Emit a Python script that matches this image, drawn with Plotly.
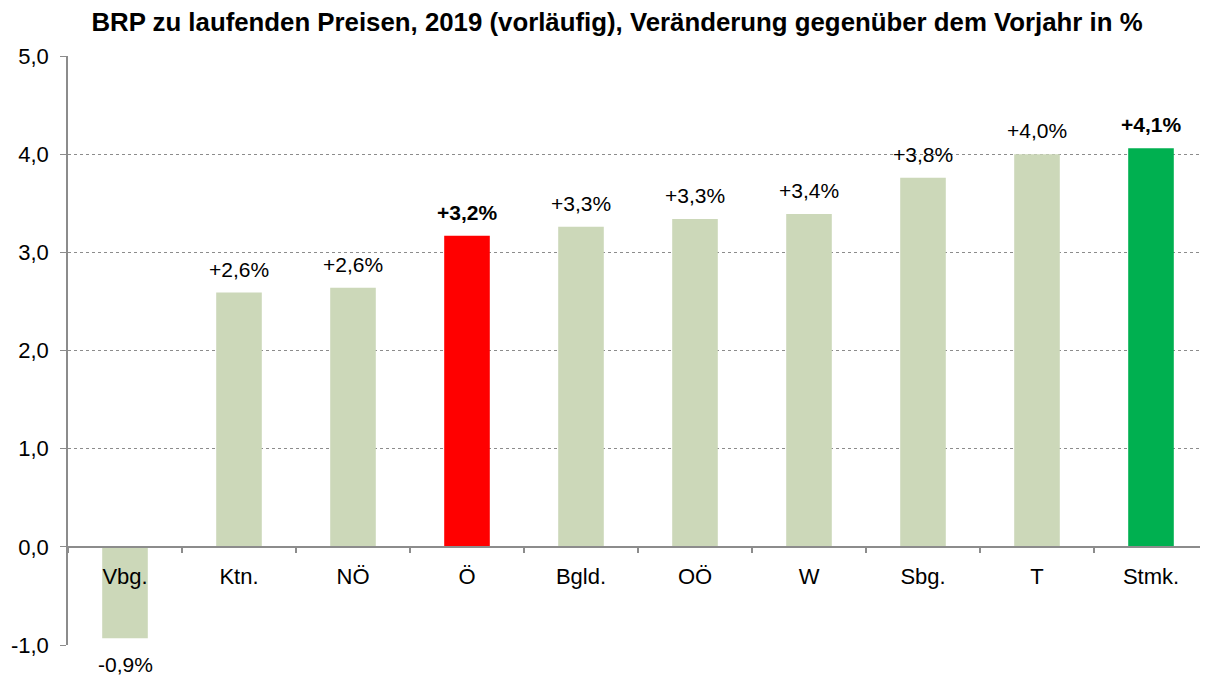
import plotly.graph_objects as go

categories = ["Vbg.", "Ktn.", "NÖ", "Ö", "Bgld.", "OÖ", "W", "Sbg.", "T", "Stmk."]
values = [-0.93, 2.59, 2.64, 3.17, 3.26, 3.34, 3.39, 3.76, 4.00, 4.06]
highlight = {"Ö": "#FF0000", "Stmk.": "#00B050"}
base_color = "#CCD8B9"
y_ticks = [-1, 0, 1, 2, 3, 4, 5]

colors = [highlight.get(c, base_color) for c in categories]
y_ticktext = [f"{t:.1f}".replace(".", ",") for t in y_ticks]
FONT = "Liberation Sans, Arial, sans-serif"
AXIS_GRAY = "#8C8C8C"

fig = go.Figure()
fig.add_trace(go.Bar(x=categories, y=values, marker=dict(color=colors, line=dict(width=0)),
                     hoverinfo="skip"))

def fmt(v):
    return f"{v:+.1f}%".replace(".", ",")

annotations = []
for c, v in zip(categories, values):
    bold = c in highlight
    txt = f"<b>{fmt(v)}</b>" if bold else fmt(v)
    if v >= 0:
        annotations.append(dict(x=c, y=v, text=txt, showarrow=False, yanchor="bottom",
                                yshift=10, font=dict(size=21, color="#000000", family=FONT)))
    else:
        annotations.append(dict(x=c, y=v, text=txt, showarrow=False, yanchor="top",
                                yshift=-13, font=dict(size=21, color="#000000", family=FONT)))

fig.update_layout(
    width=1200, height=667,
    margin=dict(l=60, r=0, t=48, b=30),
    paper_bgcolor="white", plot_bgcolor="white",
    separators=",.",
    bargap=0.6,
    showlegend=False,
    font=dict(family=FONT, size=22, color="#000000"),
    title=dict(text="<b>BRP zu laufenden Preisen, 2019 (vorläufig), Veränderung gegenüber dem Vorjahr in %</b>",
               x=0.5075, xanchor="center", y=0.979, yanchor="middle",
               font=dict(size=25.8, family=FONT, color="#000000")),
    annotations=annotations,
    xaxis=dict(
        anchor="free", position=1/6, automargin=False,
        showline=True, linecolor=AXIS_GRAY, linewidth=1.5,
        ticks="outside", tickson="boundaries", ticklen=5, tickcolor=AXIS_GRAY, tickwidth=1.5,
        ticklabelstandoff=10,
        showgrid=False, zeroline=False,
        tickfont=dict(size=22, family=FONT, color="#000000"),
    ),
    yaxis=dict(
        range=[-1, 5], tickvals=y_ticks, ticktext=y_ticktext, automargin=False,
        showline=True, linecolor=AXIS_GRAY, linewidth=1.5,
        ticks="outside", ticklen=6, tickcolor=AXIS_GRAY, tickwidth=1,
        ticklabelstandoff=7,
        showgrid=True, gridcolor=AXIS_GRAY, griddash="dot", gridwidth=1,
        zeroline=False,
        tickfont=dict(size=22, family=FONT, color="#000000"),
    ),
)

fig.write_html("out.html")
